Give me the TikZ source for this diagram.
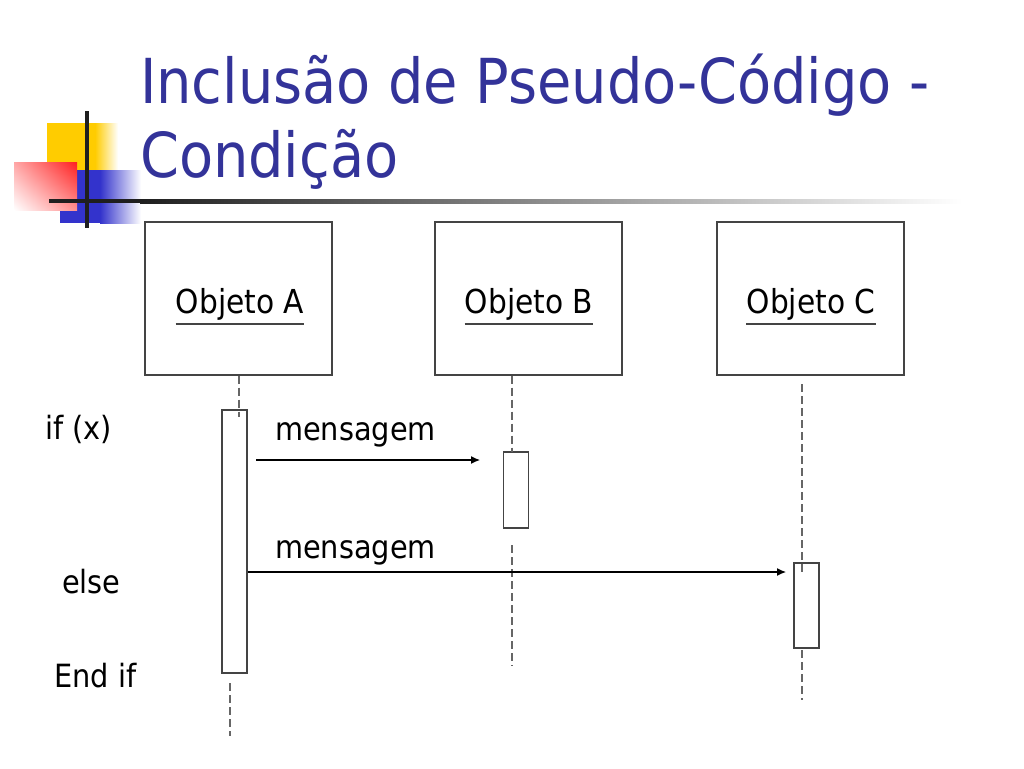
\documentclass[tikz,border=0pt]{standalone}
\usepackage{fontspec}
\setmainfont{DejaVu Sans Condensed}
\usetikzlibrary{positioning, arrows.meta, shadings}
\definecolor{titleblue}{HTML}{333399}
\definecolor{decoyellow}{HTML}{FFCC00}
\definecolor{decored}{HTML}{FF2020}
\definecolor{decoblue}{HTML}{3333CC}
\definecolor{linegray}{HTML}{444444}
\definecolor{dashgray}{HTML}{666666}
\tikzset{
	objbox/.style={draw=linegray, line width=1.4pt, rectangle, minimum width=187pt, minimum height=153pt, inner sep=0pt},
	activation/.style={draw=linegray, line width=1.2pt, rectangle, fill=white, minimum width=25pt, inner sep=0pt},
	lifeline/.style={draw=dashgray, line width=1.4pt, dash pattern=on 8pt off 4pt},
	% texts of the diagram
	label/.style={font=\fontsize{32}{38}\selectfont, inner sep=0pt, anchor=base west},
	objlabel/.style={font=\fontsize{33}{38}\selectfont, inner sep=0pt, anchor=base},
	titletext/.style={font=\fontsize{62}{74}\selectfont, text=titleblue, inner sep=0pt, anchor=base west},
}

\begin{document}
\begin{tikzpicture}[x=1pt, y=-1pt]
			\useasboundingbox (0,0) rectangle (1024,768);
			
			% decoration of the title
			\fill[decoyellow] (47,123) rectangle (95,170);
			\shade[left color=decoyellow, right color=white] (95,123) rectangle (118,170);
			\fill[decoblue] (60,170) rectangle (100,223);
			\shade[left color=decoblue, right color=white] (100,170) rectangle (141,223);
			\shade[upper right=decored, upper left=decored!40, lower right=decored!50, lower left=white] (14,162) rectangle (77,210);
			\fill[black!88] (49,199) rectangle (140,203);
			\shade[left color=black!88, right color=white] (140,199) rectangle (962,203);
			\fill[black!88] (85,111) rectangle (89,228);
			
			\node (title1) [titletext] at (140,103) {Inclusão de Pseudo-Código -};
			\node (title2) [titletext] at (140,177) {Condição};
			
			% objects
			\node (objA) [objbox] at (238.5,298.5) {};
			\node (objB) [objbox, right=101.5pt of objA] {};
			\node (objC) [objbox, right=93.5pt of objB] {};
			
			\node (labA) [objlabel] at (240,313) {Objeto A};
			\node (labB) [objlabel] at (529,313) {Objeto B};
			\node (labC) [objlabel] at (811,313) {Objeto C};
			\draw[linegray, line width=1.2pt] ([yshift=-11pt]labA.base west) -- ([yshift=-11pt]labA.base east);
			\draw[linegray, line width=1.2pt] ([yshift=-11pt]labB.base west) -- ([yshift=-11pt]labB.base east);
			\draw[linegray, line width=1.2pt] ([yshift=-11pt]labC.base west) -- ([yshift=-11pt]labC.base east);
			
			% lifelines
			\coordinate (endA1) at (239,417);
			\coordinate (topA2) at (230,683);
			\coordinate (endA2) at (230,736);
			\coordinate (endB1) at (512,452);
			\coordinate (topB2) at (512,545);
			\coordinate (endB2) at (512,666);
			\coordinate (topC1) at (802,384);
			\coordinate (endC1) at (802,575);
			\coordinate (topC2) at (802,650);
			\coordinate (endC2) at (802,700);
			
			\node (actA) [activation, minimum height=263pt] at (234.5,541.5) {};
			\node (actB) [activation, minimum height=76pt] at (516,490) {};
			\node (actC) [activation, minimum height=85pt] at (806.5,605.5) {};
			
			\draw[lifeline] (objA.south -| endA1) -- (endA1);
			\draw[lifeline] (topA2) -- (endA2);
			\draw[lifeline] (objB.south -| endB1) -- (endB1);
			\draw[lifeline] (topB2) -- (endB2);
			\draw[lifeline] (topC1) -- (endC1);
			\draw[lifeline] (topC2) -- (endC2);
			
			% messages
			\coordinate (m1s) at (256,460);
			\coordinate (m1e) at (480,460);
			\coordinate (m2e) at (786,572);
			\begin{scope}[line width=1.2pt, black, ->, >={Latex[length=9pt, width=8pt]}]
				\draw (m1s) -- (m1e);
				\draw (actA.east |- m2e) -- (m2e);
			\end{scope}
			
			\node (msg1) [label] at (275,440) {mensagem};
			\node (msg2) [label] at (275,558) {mensagem};
			
			\node (cif) [label] at (45,439) {if (x)};
			\node (celse) [label] at (62,593) {else};
			\node (cend) [label] at (54,687) {End if};
		\end{tikzpicture}
\end{document}
